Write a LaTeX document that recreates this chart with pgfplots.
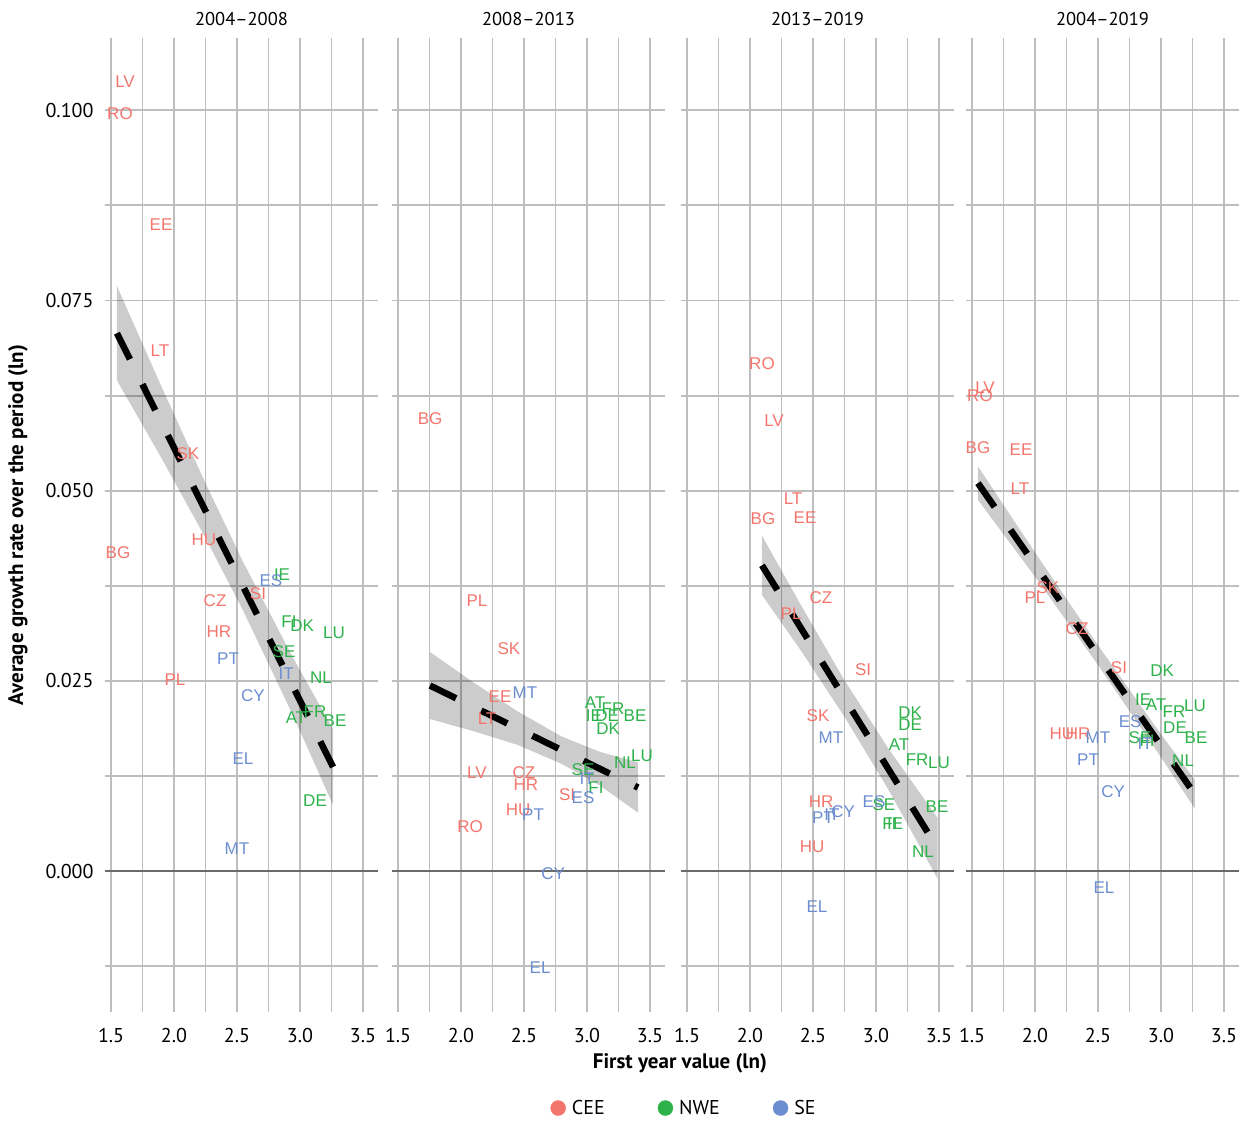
\documentclass[border=0pt]{standalone}
\usepackage{fontspec}
\setmainfont{PT Sans}
\newfontfamily\labelfont{Liberation Sans}
\usepackage{pgfplots}
\usepackage{pgfplotstable}
\pgfplotsset{compat=1.18}

\definecolor{cee}{HTML}{F3756C}
\definecolor{nwe}{HTML}{2DB24A}
\definecolor{seu}{HTML}{6C8ED0}
\definecolor{gridc}{HTML}{BEBEBE}
\definecolor{zeroc}{HTML}{6A6A6A}

% ---------- 2004-2008 ----------
\pgfplotstableread{
x y lab
1.611 0.1037 LV
1.571 0.0996 RO
1.897 0.0850 EE
1.889 0.0684 LT
2.111 0.0549 SK
1.555 0.0419 BG
2.238 0.0436 HU
2.667 0.0365 SI
2.326 0.0356 CZ
2.357 0.0315 HR
2.008 0.0252 PL
}\ceeA
\pgfplotstableread{
x y lab
2.858 0.0390 IE
2.913 0.0328 FI
3.017 0.0323 DK
3.271 0.0313 LU
2.874 0.0288 SE
3.168 0.0255 NL
2.969 0.0202 AT
3.120 0.0210 FR
3.279 0.0198 BE
3.120 0.0093 DE
}\nweA
\pgfplotstableread{
x y lab
2.770 0.0382 ES
2.429 0.0279 PT
2.890 0.0260 IT
2.627 0.0231 CY
2.548 0.0148 EL
2.500 0.0030 MT
}\seuA

% ---------- 2008-2013 ----------
\pgfplotstableread{
x y lab
1.754 0.0595 BG
2.127 0.0355 PL
2.381 0.0293 SK
2.310 0.0229 EE
2.207 0.0200 LT
2.127 0.0130 LV
2.500 0.0130 CZ
2.516 0.0114 HR
2.842 0.0100 SI
2.453 0.0081 HU
2.072 0.0059 RO
}\ceeB
\pgfplotstableread{
x y lab
3.064 0.0222 AT
3.207 0.0213 FR
3.056 0.0204 IE
3.160 0.0204 DE
3.382 0.0205 BE
3.168 0.0188 DK
3.303 0.0143 NL
3.438 0.0152 LU
2.969 0.0133 SE
3.072 0.0110 FI
}\nweB
\pgfplotstableread{
x y lab
2.508 0.0235 MT
2.969 0.0097 ES
2.572 0.0074 PT
2.731 -0.0003 CY
2.628 -0.0127 EL
3.001 0.0122 IT
}\seuB

% ---------- 2013-2019 ----------
\pgfplotstableread{
x y lab
2.095 0.0667 RO
2.191 0.0592 LV
2.342 0.0489 LT
2.437 0.0465 EE
2.103 0.0464 BG
2.564 0.0359 CZ
2.326 0.0338 PL
2.898 0.0265 SI
2.540 0.0204 SK
2.564 0.0091 HR
2.493 0.0032 HU
}\ceeC
\pgfplotstableread{
x y lab
3.271 0.0209 DK
3.271 0.0192 DE
3.184 0.0166 AT
3.327 0.0147 FR
3.501 0.0142 LU
3.064 0.0087 SE
3.485 0.0085 BE
3.112 0.0063 FI
3.152 0.0062 IE
3.374 0.0026 NL
}\nweC
\pgfplotstableread{
x y lab
2.643 0.0176 MT
2.985 0.0091 ES
2.580 0.0070 PT
2.651 0.0075 IT
2.739 0.0078 CY
2.532 -0.0047 EL
}\seuC

% ---------- 2004-2019 ----------
\pgfplotstableread{
x y lab
1.603 0.0635 LV
1.563 0.0625 RO
1.547 0.0557 BG
1.889 0.0554 EE
1.881 0.0503 LT
2.103 0.0373 SK
2.000 0.0360 PL
2.334 0.0319 CZ
2.667 0.0268 SI
2.214 0.0181 HU
2.342 0.0181 HR
}\ceeD
\pgfplotstableread{
x y lab
3.009 0.0263 DK
2.858 0.0226 IE
2.961 0.0219 AT
3.104 0.0210 FR
3.271 0.0217 LU
3.112 0.0189 DE
3.279 0.0176 BE
2.834 0.0176 SE
2.890 0.0172 FI
3.176 0.0145 NL
}\nweD
\pgfplotstableread{
x y lab
2.755 0.0197 ES
2.500 0.0176 MT
2.874 0.0167 IT
2.421 0.0146 PT
2.620 0.0105 CY
2.548 -0.0022 EL
}\seuD

\newcommand\titlefont{\fontsize{18.5}{20}\selectfont}
\newcommand\tickfont{\fontsize{20}{22}\selectfont}
\newcommand\labfont{\fontsize{21}{23}\selectfont\bfseries}

\pgfplotsset{
  panel/.style={
    scale only axis, width=273pt, height=974pt,
    xmin=1.452, xmax=3.62, ymin=-0.0185, ymax=0.1095,
    axis line style={draw=none},
    major tick length=0pt, minor tick length=0pt,
    xtick={1.5,2,2.5,3,3.5},
    minor xtick={1.75,2.25,2.75,3.25},
    ytick={0,0.025,0.05,0.075,0.1},
    minor ytick={-0.0125,0.0125,0.0375,0.0625,0.0875},
    grid=both,
    major grid style={draw=gridc, line width=1.8pt},
    minor grid style={draw=gridc, line width=1.8pt},
    extra y ticks={0}, extra y tick labels={},
    extra y tick style={major grid style={draw=zeroc, line width=1.8pt}},
    scaled y ticks=false, scaled x ticks=false,
    tick label style={font=\tickfont},
    xticklabel style={anchor=north, yshift=-13pt,
      /pgf/number format/fixed, /pgf/number format/fixed zerofill,
      /pgf/number format/precision=1, /pgf/number format/assume math mode=true},
    yticklabel style={anchor=east, xshift=-8pt,
      /pgf/number format/fixed, /pgf/number format/fixed zerofill,
      /pgf/number format/precision=3, /pgf/number format/assume math mode=true},
    title style={font=\titlefont, at={(0.5,1)}, anchor=center, yshift=13pt},
  },
  inner/.style={yticklabels={,,,,,}},
  cty/.style={only marks, mark=none, nodes near coords, point meta=explicit symbolic,
    nodes near coords style={font=\labelfont\fontsize{17}{17}\selectfont, text=#1,
      anchor=center, inner sep=0pt}},
  band/.style={draw=none, fill=black, fill opacity=0.2},
  fit/.style={black, line width=6.5pt, dash pattern=on 29pt off 28pt},
}

\begin{document}
\begin{tikzpicture}
\useasboundingbox (0pt,0pt) rectangle (1242pt,1120pt);

% 2004-2008
\begin{axis}[panel, at={(105pt,108pt)}, anchor=south west, title={2004–2008},
  ylabel={Average growth rate over the period (ln)},
  ylabel style={font=\labfont, at={(axis description cs:-0.319,0.5)}, anchor=center},
  xlabel={First year value (ln)},
  xlabel style={font=\labfont, at={(axis description cs:2.106,-0.0524)}, anchor=center},
  legend style={at={(2.121,-0.0986)}, anchor=center, draw=none, fill=none,
    legend columns=3, font=\tickfont,
    /tikz/every odd column/.append style={column sep=4pt},
    /tikz/every even column/.append style={column sep=51pt}},
  legend cell align=left]
\addlegendimage{legend image code/.code={\fill[cee] (0pt,0pt) circle (7.5pt);}}
\addlegendimage{legend image code/.code={\fill[nwe] (0pt,0pt) circle (7.5pt);}}
\addlegendimage{legend image code/.code={\fill[seu] (0pt,0pt) circle (7.5pt);}}
\legend{CEE,NWE,SE}
\addplot[cty=cee] table[x=x,y=y,meta=lab] {\ceeA};
\addplot[cty=nwe] table[x=x,y=y,meta=lab] {\nweA};
\addplot[cty=seu] table[x=x,y=y,meta=lab] {\seuA};
\addplot[band] coordinates {(1.547,0.0769) (1.9,0.0637) (2.25,0.0510) (2.55,0.0406) (2.95,0.0279) (3.263,0.0187)
  (3.263,0.0087) (2.95,0.0203) (2.55,0.0342) (2.25,0.0438) (1.9,0.0543) (1.547,0.0645)} -- cycle;
\addplot[fit] coordinates {(1.547,0.0707) (3.263,0.0137)};
\end{axis}

% 2008-2013
\begin{axis}[panel, inner, at={(392pt,108pt)}, anchor=south west, title={2008–2013}]
\addplot[cty=cee] table[x=x,y=y,meta=lab] {\ceeB};
\addplot[cty=nwe] table[x=x,y=y,meta=lab] {\nweB};
\addplot[cty=seu] table[x=x,y=y,meta=lab] {\seuB};
\addplot[band] coordinates {(1.754,0.0288) (2.1,0.0248) (2.45,0.0210) (2.8,0.0177) (3.1,0.0157) (3.406,0.0143)
  (3.406,0.0077) (3.1,0.0113) (2.8,0.0141) (2.45,0.0166) (2.1,0.0184) (1.754,0.0200)} -- cycle;
\addplot[fit] coordinates {(1.754,0.0244) (3.406,0.0110)};
\end{axis}

% 2013-2019
\begin{axis}[panel, inner, at={(681pt,108pt)}, anchor=south west, title={2013–2019}]
\addplot[cty=cee] table[x=x,y=y,meta=lab] {\ceeC};
\addplot[cty=nwe] table[x=x,y=y,meta=lab] {\nweC};
\addplot[cty=seu] table[x=x,y=y,meta=lab] {\seuC};
\addplot[band] coordinates {(2.095,0.0441) (2.4,0.0351) (2.75,0.0251) (3.1,0.0161) (3.49,0.0070)
  (3.49,-0.0010) (3.1,0.0107) (2.75,0.0203) (2.4,0.0291) (2.095,0.0363)} -- cycle;
\addplot[fit] coordinates {(2.095,0.0402) (3.49,0.0030)};
\end{axis}

% 2004-2019
\begin{axis}[panel, inner, at={(966pt,108pt)}, anchor=south west, title={2004–2019}]
\addplot[cty=cee] table[x=x,y=y,meta=lab] {\ceeD};
\addplot[cty=nwe] table[x=x,y=y,meta=lab] {\nweD};
\addplot[cty=seu] table[x=x,y=y,meta=lab] {\seuD};
\addplot[band] coordinates {(1.547,0.0532) (2.0,0.0419) (2.5,0.0297) (3.0,0.0180) (3.27,0.0120)
  (3.27,0.0082) (3.0,0.0150) (2.5,0.0271) (2.0,0.0387) (1.547,0.0488)} -- cycle;
\addplot[fit] coordinates {(1.547,0.0510) (3.27,0.0101)};
\end{axis}
\end{tikzpicture}
\end{document}
